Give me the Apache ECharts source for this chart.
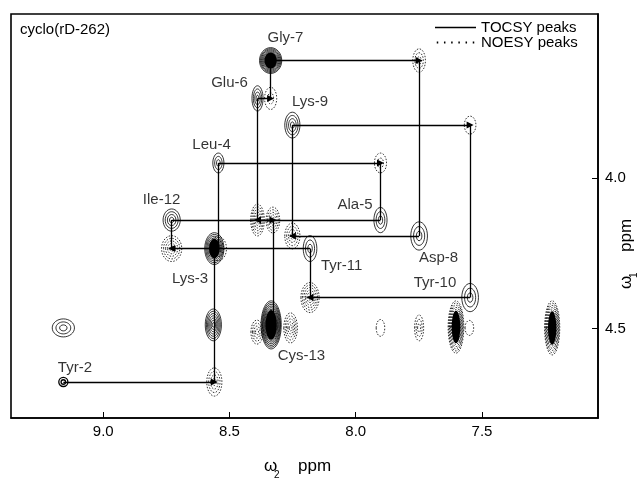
<!DOCTYPE html>
<html><head><meta charset="utf-8">
<script src="https://cdn.jsdelivr.net/npm/echarts@6/dist/echarts.min.js"></script>
<style>html,body{margin:0;padding:0;background:#fff}#c{width:638px;height:480px}</style>
</head><body><div id="c"></div>
<script>
const FONT = '"Liberation Sans", Arial, Helvetica, sans-serif';

// ---- TOCSY cross peaks: w2 (ppm), w1 (ppm), contour levels, half line widths (ppm)
const tocsyW2 = [9.158, 9.158, 8.560, 8.564, 8.544, 7.902, 8.389, 8.337, 7.749, 8.251, 7.547, 8.181, 8.729, 8.335];
const tocsyW1 = [4.678, 4.498, 4.234, 4.488, 3.949, 4.139, 3.734, 3.608, 4.192, 3.823, 4.397, 4.234, 4.139, 4.488];
const tocsyLevels = [2, 3, 9, 7, 3, 3, 4, 12, 3, 4, 3, 3, 4, 14];
const tocsyHalfW2 = [0.018, 0.044, 0.038, 0.032, 0.022, 0.026, 0.022, 0.044, 0.033, 0.030, 0.033, 0.027, 0.034, 0.040];
const tocsyHalfW1 = [0.015, 0.030, 0.053, 0.053, 0.033, 0.042, 0.042, 0.043, 0.047, 0.043, 0.047, 0.043, 0.037, 0.080];

// ---- NOESY cross peaks
const noesyW2 = [8.560, 8.544, 7.902, 8.389, 8.337, 7.749, 8.251, 7.547, 8.181, 8.729, 8.328, 7.902, 7.749, 7.603, 7.550, 7.222, 8.391, 8.258];
const noesyW1 = [4.678, 4.234, 3.949, 4.139, 3.734, 3.608, 4.192, 3.823, 4.397, 4.234, 4.139, 4.498, 4.498, 4.495, 4.498, 4.498, 4.512, 4.498];
const noesyLevels = [4, 3, 2, 6, 2, 3, 4, 1, 6, 5, 5, 1, 3, 12, 1, 12, 4, 5];
const noesyHalfW2 = [0.030, 0.032, 0.024, 0.027, 0.024, 0.025, 0.030, 0.023, 0.036, 0.040, 0.027, 0.017, 0.018, 0.031, 0.017, 0.030, 0.024, 0.027];
const noesyHalfW1 = [0.047, 0.040, 0.033, 0.053, 0.037, 0.039, 0.043, 0.030, 0.050, 0.043, 0.043, 0.028, 0.043, 0.087, 0.025, 0.090, 0.040, 0.050];

// ---- sequential walk (w2, w1)
const walkW2 = [9.158, 8.560, 8.560, 8.544, 8.544, 7.902, 7.902, 8.389, 8.389, 8.337, 8.337, 7.749, 7.749, 8.251, 8.251, 7.547, 7.547, 8.181, 8.181, 8.729, 8.729, 8.328, 8.328];
const walkW1 = [4.678, 4.678, 4.234, 4.234, 3.949, 3.949, 4.139, 4.139, 3.734, 3.734, 3.608, 3.608, 4.192, 4.192, 3.823, 3.823, 4.397, 4.397, 4.234, 4.234, 4.139, 4.139, 4.488];

// ---- residue labels
const residueNames = ['Gly-7', 'Glu-6', 'Lys-9', 'Leu-4', 'Ala-5', 'Ile-12', 'Asp-8', 'Lys-3', 'Tyr-11', 'Tyr-10', 'Cys-13', 'Tyr-2'];
const residueLabelW2 = [8.278, 8.500, 8.181, 8.571, 8.003, 8.769, 7.672, 8.656, 8.056, 7.686, 8.215, 9.112];
const residueLabelW1 = [3.533, 3.683, 3.746, 3.889, 4.089, 4.072, 4.264, 4.334, 4.290, 4.347, 4.592, 4.632];

const xTicks = [7.5, 8.0, 8.5, 9.0];
const yTicks = [4.0, 4.5];

function pack(a, b, c, d, e) { return a.map((v, i) => [v, b[i], c[i], d[i], e[i]]); }

function contour(dashed) {
  return function (params, api) {
    const c = api.coord([api.value(0), api.value(1)]);
    const s = api.size([api.value(3), api.value(4)], [api.value(0), api.value(1)]);
    const L = api.value(2);
    const ch = [];
    for (let k = 0; k < L; k++) {
      const f = 1 - k / L;
      ch.push({type: 'ellipse', shape: {cx: c[0], cy: c[1], rx: s[0] * f, ry: s[1] * f},
        style: {fill: 'none', stroke: '#000', lineWidth: L <= 2 && !dashed ? 1.3 : 0.8, lineDash: dashed ? [1.5, 1.5] : null}});
    }
    if (L >= 8) {
      ch.push({type: 'ellipse', shape: {cx: c[0], cy: c[1], rx: s[0] * 0.55, ry: s[1] * 0.62}, style: {fill: '#000'}});
    }
    return {type: 'group', children: ch};
  };
}

const arrowSegs = [], plainSegs = [];
for (let i = 0; i < walkW2.length - 1; i++) {
  const a = [walkW2[i], walkW1[i]], b = [walkW2[i + 1], walkW1[i + 1]];
  if (a[1] === b[1] && Math.abs(a[0] - b[0]) > 0.05) arrowSegs.push({coords: [a, b]});
  else plainSegs.push({coords: [a, b]});
}

const dotted = 'path://' + [0, 7.2, 14.4, 21.6, 28.8, 36].map(x => 'M' + x + ',0h1.5v2h-1.5z').join('');

const chart = echarts.init(document.getElementById('c'));
chart.setOption({
  animation: false,
  backgroundColor: '#fff',
  title: {text: 'cyclo(rD-262)', left: 20, top: 22, padding: 0,
    textStyle: {fontSize: 15, fontWeight: 'normal', color: '#000', fontFamily: FONT}},
  legend: {
    left: 435, top: 20, orient: 'vertical', padding: 0, itemGap: 0, itemWidth: 41, itemHeight: 2,
    selectedMode: false,
    textStyle: {fontSize: 15, color: '#000', fontFamily: FONT, lineHeight: 14},
    data: [{name: 'TOCSY peaks', icon: 'path://M0,0h41v1.3h-41z'}, {name: 'NOESY peaks', icon: dotted}]
  },
  grid: {left: 11, right: 40, top: 14, bottom: 62, show: true, borderColor: '#000', borderWidth: 1.6, backgroundColor: 'transparent'},
  xAxis: {
    type: 'value', inverse: true, min: 7.0405, max: 9.3653, position: 'bottom',
    axisLine: {show: true, lineStyle: {color: '#000', width: 1.6}},
    axisTick: {show: true, inside: true, length: 6, customValues: xTicks, lineStyle: {color: '#000', width: 1}},
    axisLabel: {customValues: xTicks, formatter: v => v.toFixed(1), fontSize: 15, color: '#000', fontFamily: FONT, margin: 6},
    splitLine: {show: false}
  },
  yAxis: {
    type: 'value', inverse: true, min: 3.4531, max: 4.7979, position: 'right',
    axisLine: {show: true, lineStyle: {color: '#000', width: 1.6}},
    axisTick: {show: true, inside: true, length: 6, customValues: yTicks, lineStyle: {color: '#000', width: 1}},
    axisLabel: {customValues: yTicks, formatter: v => v.toFixed(1), fontSize: 15, color: '#000', fontFamily: FONT, margin: 7},
    splitLine: {show: false}
  },
  graphic: [
    {type: 'text', left: 264, top: 458, style: {text: 'ω', font: '17px ' + FONT, fill: '#000'}},
    {type: 'text', left: 274, top: 470, style: {text: '2', font: '10px ' + FONT, fill: '#000'}},
    {type: 'text', left: 298, top: 458, style: {text: 'ppm', font: '17px ' + FONT, fill: '#000'}},
    {type: 'group', x: 618, y: 289, rotation: Math.PI / 2, children: [
      {type: 'text', x: 0, y: 0, style: {text: 'ω', font: '17px ' + FONT, fill: '#000'}},
      {type: 'text', x: 11, y: 11, style: {text: '1', font: '10px ' + FONT, fill: '#000'}},
      {type: 'text', x: 37, y: 0, style: {text: 'ppm', font: '17px ' + FONT, fill: '#000'}}
    ]}
  ],
  series: [
    {type: 'lines', coordinateSystem: 'cartesian2d', data: plainSegs, symbol: ['none', 'none'],
      lineStyle: {color: '#000', width: 1.3, opacity: 1}, silent: true, z: 3},
    {type: 'lines', coordinateSystem: 'cartesian2d', data: arrowSegs, symbol: ['none', 'triangle'], symbolSize: 7,
      lineStyle: {color: '#000', width: 1.3, opacity: 1}, silent: true, z: 3},
    {name: 'TOCSY peaks', type: 'custom', renderItem: contour(false), itemStyle: {color: '#000'},
      data: pack(tocsyW2, tocsyW1, tocsyLevels, tocsyHalfW2, tocsyHalfW1), encode: {x: 0, y: 1}, clip: true, silent: true, z: 4},
    {name: 'NOESY peaks', type: 'custom', renderItem: contour(true), itemStyle: {color: '#000'},
      data: pack(noesyW2, noesyW1, noesyLevels, noesyHalfW2, noesyHalfW1), encode: {x: 0, y: 1}, clip: true, silent: true, z: 4},
    {type: 'scatter', symbolSize: 1, itemStyle: {color: 'rgba(0,0,0,0)'}, silent: true, z: 5,
      data: residueNames.map((n, i) => ({name: n, value: [residueLabelW2[i], residueLabelW1[i]]})),
      label: {show: true, position: 'inside', formatter: '{b}', fontSize: 15, color: '#000', fontFamily: FONT}}
  ]
});
</script></body></html>
